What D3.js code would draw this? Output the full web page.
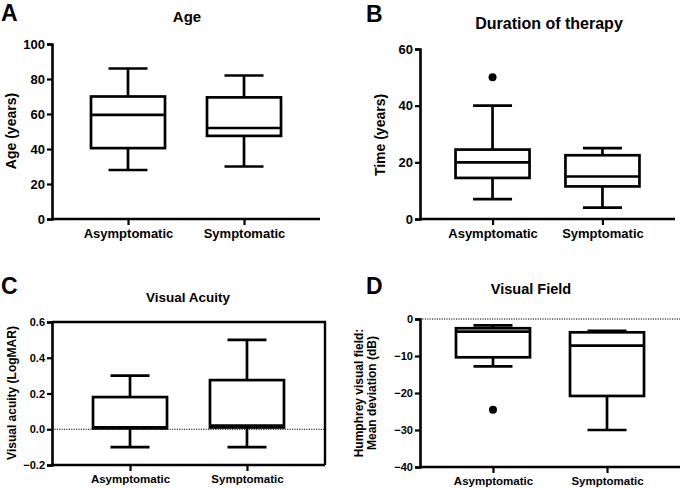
<!DOCTYPE html>
<html><head><meta charset="utf-8">
<script src="https://cdn.jsdelivr.net/npm/d3@7"></script>
<style>body{margin:0;background:#fff}svg{display:block}text{font-family:"Liberation Sans",Arial,sans-serif;font-weight:bold;fill:#000}</style>
</head><body>
<svg id="c" width="685" height="488"></svg>
<script>
const groups = ["Asymptomatic", "Symptomatic"];
// [min, q1, median, q3, max]
const ageBox = [[28, 40.5, 59.5, 70, 86], [30, 47.5, 52, 69.5, 82]];
const ageOutliers = [[], []];
const ageTicks = [0, 20, 40, 60, 80, 100];
const durBox = [[7, 14.5, 20, 24.5, 40], [4, 11.5, 15, 22.5, 25]];
const durOutliers = [[50], []];
const durTicks = [0, 20, 40, 60];
const vaBox = [[-0.1, 0.005, 0.01, 0.18, 0.3], [-0.1, 0.01, 0.02, 0.275, 0.5]];
const vaOutliers = [[], []];
const vaTicks = [-0.2, 0.0, 0.2, 0.4, 0.6];
const vfBox = [[-12.8, -10.35, -3.4, -2.5, -1.7], [-30, -20.8, -7.2, -3.6, -3.2]];
const vfOutliers = [[-24.5], []];
const vfTicks = [-40, -30, -20, -10, 0];

const svg = d3.select("#c");

function panel(o) {
  const g = svg.append("g");
  const y = d3.scaleLinear().domain(o.domain).range([o.y1, o.y0]);
  const x = d3.scalePoint().domain(groups).range([o.x0, o.x1]).padding(o.pad);
  g.append("text").attr("x", o.lx).attr("y", o.ly).attr("font-size", 23).text(o.letter);
  g.append("text").attr("x", o.tx).attr("y", o.ty).attr("font-size", o.tfs).attr("text-anchor", "middle").text(o.title);
  if (o.refLine !== undefined) {
    g.append("line").attr("x1", o.x0).attr("x2", o.x1).attr("y1", y(o.refLine)).attr("y2", y(o.refLine))
      .attr("stroke", "#000").attr("stroke-width", 1).attr("stroke-dasharray", "1.2,1.2");
  }
  if (o.frame) {
    g.append("path").attr("d", `M${o.x0},${o.y0}H${o.x1}V${o.y1}`).attr("fill", "none").attr("stroke", "#000").attr("stroke-width", 2.4);
  }
  const ya = g.append("g").attr("transform", `translate(${o.x0},0)`)
    .call(d3.axisLeft(y).tickValues(o.ticks).tickSize(5).tickPadding(2).tickFormat(o.fmt || d3.format("d")));
  ya.select(".domain").attr("stroke-width", 2.6);
  ya.selectAll(".tick line").attr("stroke-width", 2.2);
  ya.selectAll("text").attr("font-size", o.fs).attr("font-family", "Liberation Sans, Arial, sans-serif").attr("font-weight", "bold").attr("fill", "#000");
  const xa = g.append("g").attr("transform", `translate(0,${o.y1})`)
    .call(d3.axisBottom(x).tickSize(6).tickPadding(4).tickSizeOuter(0));
  xa.select(".domain").attr("stroke-width", 2.6).attr("d", `M${o.x0 - 1},0H${o.x1}`);
  xa.selectAll(".tick line").attr("stroke-width", 2.2);
  xa.selectAll("text").attr("font-size", o.xfs).attr("font-family", "Liberation Sans, Arial, sans-serif").attr("font-weight", "bold").attr("fill", "#000");
  const lab = g.append("text").attr("transform", `translate(${o.ylx},${o.yly}) rotate(-90)`).attr("text-anchor", "middle").attr("font-size", o.ylfs);
  o.ylabel.forEach((t, i) => lab.append("tspan").attr("x", 0).attr("dy", i === 0 ? 0 : o.ylfs * 1.12).text(t));
  const bw = 74, cw = 39;
  o.data.forEach((d, i) => {
    const cx = x(groups[i]);
    const bg = g.append("g").attr("stroke", "#000").attr("stroke-width", 2.7).attr("fill", "none");
    bg.append("line").attr("x1", cx).attr("x2", cx).attr("y1", y(d[4])).attr("y2", y(d[3]));
    bg.append("line").attr("x1", cx).attr("x2", cx).attr("y1", y(d[1])).attr("y2", y(d[0]));
    bg.append("line").attr("x1", cx - cw / 2).attr("x2", cx + cw / 2).attr("y1", y(d[4])).attr("y2", y(d[4]));
    bg.append("line").attr("x1", cx - cw / 2).attr("x2", cx + cw / 2).attr("y1", y(d[0])).attr("y2", y(d[0]));
    bg.append("rect").attr("x", cx - bw / 2).attr("width", bw).attr("y", y(d[3])).attr("height", y(d[1]) - y(d[3]));
    bg.append("line").attr("x1", cx - bw / 2).attr("x2", cx + bw / 2).attr("y1", y(d[2])).attr("y2", y(d[2]));
    o.outliers[i].forEach(v => g.append("circle").attr("cx", cx).attr("cy", y(v)).attr("r", 4).attr("fill", "#000"));
  });
}

panel({letter: "A", lx: 1, ly: 21, title: "Age", tx: 187, ty: 22, tfs: 15,
  domain: [0, 100], ticks: ageTicks, x0: 52, x1: 320, y0: 44, y1: 219, pad: 0.655,
  fs: 13, xfs: 13, ylabel: ["Age (years)"], ylx: 16, yly: 131, ylfs: 14,
  data: ageBox, outliers: ageOutliers});
panel({letter: "B", lx: 366, ly: 22, title: "Duration of therapy", tx: 549, ty: 29, tfs: 16,
  domain: [0, 60], ticks: durTicks, x0: 420, x1: 675, y0: 49, y1: 219, pad: 0.66,
  fs: 13, xfs: 13, ylabel: ["Time (years)"], ylx: 385, yly: 135, ylfs: 14,
  data: durBox, outliers: durOutliers});
panel({letter: "C", lx: 1, ly: 294, title: "Visual Acuity", tx: 188, ty: 302, tfs: 13.5,
  domain: [-0.2, 0.6], ticks: vaTicks, x0: 52, x1: 325, y0: 322, y1: 465, pad: 0.667,
  fs: 11, xfs: 11.5, fmt: d3.format(".1f"), ylabel: ["Visual acuity (LogMAR)"], ylx: 16, yly: 393, ylfs: 12,
  data: vaBox, outliers: vaOutliers, refLine: 0, frame: true});
panel({letter: "D", lx: 366, ly: 294, title: "Visual Field", tx: 531, ty: 294, tfs: 14.5,
  domain: [-40, 0], ticks: vfTicks, x0: 420, x1: 680, y0: 319, y1: 467, pad: 0.64,
  fs: 11, xfs: 11.5, ylabel: ["Humphrey visual field:", "Mean deviation (dB)"], ylx: 363, yly: 393, ylfs: 12,
  data: vfBox, outliers: vfOutliers, refLine: 0});
</script>
</body></html>
